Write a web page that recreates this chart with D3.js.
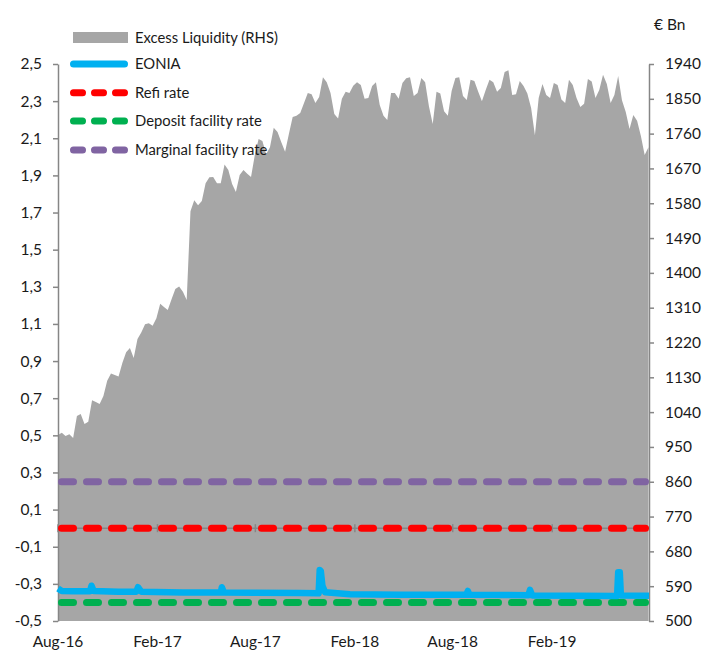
<!DOCTYPE html>
<html>
<head>
<meta charset="utf-8">
<script src="https://cdn.jsdelivr.net/npm/d3@7"></script>
<style>
  body { margin: 0; background: #fff; }
  text { font-family: Lato, "Open Sans", sans-serif; fill: #1a1a1a; }
</style>
</head>
<body>
<div id="chart"></div>
<script>
// Excess liquidity, weekly readings from 1 Aug 2016 (EUR bn, right axis)
const liqStart = "2016-08-01";
const excessLiquidity = [981, 987, 978, 983, 973, 1030, 1035, 1009, 1015, 1071,
  1066, 1061, 1082, 1121, 1140, 1136, 1132, 1167, 1195, 1206,
  1180, 1229, 1246, 1267, 1270, 1263, 1283, 1320, 1312, 1304,
  1332, 1358, 1365, 1351, 1330, 1559, 1588, 1575, 1586, 1632,
  1647, 1648, 1632, 1632, 1680, 1666, 1630, 1609, 1653, 1666,
  1656, 1648, 1705, 1746, 1741, 1707, 1725, 1775, 1764, 1738,
  1713, 1759, 1803, 1806, 1813, 1839, 1865, 1862, 1839, 1855,
  1906, 1893, 1865, 1811, 1799, 1850, 1868, 1865, 1884, 1893,
  1886, 1850, 1852, 1883, 1893, 1834, 1806, 1795, 1865, 1865,
  1850, 1891, 1903, 1906, 1857, 1865, 1904, 1893, 1831, 1785,
  1868, 1864, 1818, 1806, 1870, 1904, 1906, 1857, 1847, 1899,
  1896, 1869, 1844, 1873, 1899, 1893, 1868, 1878, 1919, 1924,
  1860, 1862, 1896, 1883, 1864, 1826, 1756, 1852, 1888, 1860,
  1852, 1891, 1886, 1848, 1839, 1899, 1886, 1852, 1829, 1837,
  1901, 1895, 1852, 1873, 1912, 1888, 1839, 1860, 1909, 1846,
  1816, 1772, 1808, 1793, 1754, 1705, 1725];

// EONIA (%, left axis)
const eoniaDates = ["2016-08-01", "2016-08-08", "2016-09-01", "2016-09-29", "2016-10-02", "2016-10-06",
  "2016-11-20", "2016-12-24", "2016-12-27", "2017-01-02", "2017-03-20", "2017-05-29", "2017-05-31",
  "2017-06-04", "2017-10-23", "2017-11-26", "2017-11-28", "2017-11-30", "2017-12-03", "2017-12-08",
  "2018-01-23", "2018-04-26", "2018-08-26", "2018-08-29", "2018-09-01", "2018-12-19", "2018-12-22",
  "2018-12-26", "2019-06-01", "2019-06-03", "2019-06-06", "2019-06-08", "2019-07-30"];
const eoniaValues = [-0.325, -0.338, -0.34, -0.34, -0.31, -0.338,
  -0.342, -0.342, -0.318, -0.342, -0.346, -0.347, -0.318,
  -0.347, -0.349, -0.351, -0.225, -0.23, -0.31, -0.345,
  -0.356, -0.358, -0.359, -0.338, -0.359, -0.361, -0.332,
  -0.362, -0.365, -0.238, -0.238, -0.362, -0.364];

// ECB policy rates (%)
const refiRate = 0.0;
const depositRate = -0.4;
const marginalRate = 0.25;

const dateRange = ["2016-08-01", "2019-07-30"];
const xTicks = ["2016-08-01", "2017-02-01", "2017-08-01", "2018-02-01", "2018-08-01", "2019-02-01"];
const leftTicks = [-0.5, -0.3, -0.1, 0.1, 0.3, 0.5, 0.7, 0.9, 1.1, 1.3, 1.5, 1.7, 1.9, 2.1, 2.3, 2.5];
const rightTicks = [500, 590, 680, 770, 860, 950, 1040, 1130, 1220, 1310, 1400, 1490, 1580, 1670, 1760, 1850, 1940];

const legendNames = ["Excess Liquidity (RHS)", "EONIA", "Refi rate", "Deposit facility rate", "Marginal facility rate"];
const colors = { liq: "#a6a6a6", eonia: "#00b0f0", refi: "#ff0000", deposit: "#00b050", marginal: "#8064a2" };

const parse = d3.timeParse("%Y-%m-%d");
const width = 703, height = 652;
const plot = { left: 58, right: 649, top: 64, bottom: 621 };
const fontSize = "15.5px";

const x = d3.scaleTime().domain(dateRange.map(parse)).range([plot.left, plot.right]);
const yL = d3.scaleLinear().domain([-0.5, 2.5]).range([plot.bottom, plot.top]);
const yR = d3.scaleLinear().domain([500, 1940]).range([plot.bottom, plot.top]);

const loc = d3.formatLocale({ decimal: ",", thousands: ".", grouping: [3], currency: ["", "€"], minus: "-" });
const fmtL = loc.format(".1f");

const svg = d3.select("#chart").append("svg")
  .attr("width", width)
  .attr("height", height);

// Excess liquidity area
const start = parse(liqStart);
const liqData = excessLiquidity.map((v, i) => ({ date: d3.timeDay.offset(start, 7 * i), value: v }));

svg.append("path")
  .datum(liqData)
  .attr("fill", colors.liq)
  .attr("d", d3.area()
    .x(d => x(d.date))
    .y0(yR(500))
    .y1(d => yR(d.value)));

// axes
const axisColor = "#868686";

const left = svg.append("g")
  .attr("transform", `translate(${plot.left},0)`)
  .call(d3.axisLeft(yL).tickValues(leftTicks).tickFormat(fmtL).tickSize(5).tickSizeOuter(0).tickPadding(11));

const right = svg.append("g")
  .attr("transform", `translate(${plot.right},0)`)
  .call(d3.axisRight(yR).tickValues(rightTicks).tickFormat(d3.format("d")).tickSize(5).tickSizeOuter(0).tickPadding(11));

[left, right].forEach(g => {
  g.select(".domain").attr("stroke", axisColor).attr("stroke-width", 1.5);
  g.selectAll(".tick line").attr("stroke", axisColor).attr("stroke-width", 1.5);
  g.selectAll(".tick text").style("font-size", fontSize).attr("fill", "#1a1a1a");
});

// x axis line sits at zero on the left scale
const xAxis = svg.append("g");
xAxis.append("line")
  .attr("x1", plot.left).attr("x2", plot.right)
  .attr("y1", yL(0)).attr("y2", yL(0))
  .attr("stroke", axisColor).attr("stroke-width", 1.5);

xAxis.selectAll(".xtick")
  .data(xTicks.map(parse))
  .enter().append("line")
  .attr("x1", d => x(d)).attr("x2", d => x(d))
  .attr("y1", yL(0) - 4).attr("y2", yL(0) + 4)
  .attr("stroke", axisColor).attr("stroke-width", 1.5);

svg.selectAll(".xlabel")
  .data(xTicks.map(parse))
  .enter().append("text")
  .attr("x", d => x(d))
  .attr("y", 642)
  .attr("dy", "0.35em")
  .attr("text-anchor", "middle")
  .style("font-size", fontSize)
  .text(d3.timeFormat("%b-%y"));

svg.append("text")
  .attr("x", 654)
  .attr("y", 25)
  .attr("dy", "0.35em")
  .style("font-size", fontSize)
  .text("€ Bn");

// policy rate lines
const rates = [
  { value: marginalRate, color: colors.marginal },
  { value: refiRate, color: colors.refi },
  { value: depositRate, color: colors.deposit }
];

svg.selectAll(".rate")
  .data(rates)
  .enter().append("line")
  .attr("class", "rate")
  .attr("x1", plot.left + 3.5).attr("x2", plot.right - 3.5)
  .attr("y1", d => yL(d.value)).attr("y2", d => yL(d.value))
  .attr("stroke", d => d.color)
  .attr("stroke-width", 7)
  .attr("stroke-linecap", "round")
  .attr("stroke-dasharray", "12,13");

// EONIA
const eoniaData = eoniaDates.map((d, i) => ({ date: parse(d), value: eoniaValues[i] }));

svg.append("path")
  .datum(eoniaData)
  .attr("fill", "none")
  .attr("stroke", colors.eonia)
  .attr("stroke-width", 6.5)
  .attr("stroke-linejoin", "round")
  .attr("d", d3.line().x(d => x(d.date)).y(d => yL(d.value)));

// legend
const legend = svg.append("g");
const rowY = [37.5, 64, 92.7, 121, 150];

legend.append("rect")
  .attr("x", 73).attr("y", rowY[0] - 5.5)
  .attr("width", 55).attr("height", 11)
  .attr("fill", colors.liq);

legend.append("line")
  .attr("x1", 73.5).attr("x2", 124.5)
  .attr("y1", rowY[1]).attr("y2", rowY[1])
  .attr("stroke", colors.eonia)
  .attr("stroke-width", 7)
  .attr("stroke-linecap", "round");

[colors.refi, colors.deposit, colors.marginal].forEach((c, i) => {
  legend.append("line")
    .attr("x1", 73.5).attr("x2", 124.5)
    .attr("y1", rowY[i + 2]).attr("y2", rowY[i + 2])
    .attr("stroke", c)
    .attr("stroke-width", 7)
    .attr("stroke-linecap", "round")
    .attr("stroke-dasharray", "9,12");
});

legend.selectAll(".legend-text")
  .data(legendNames)
  .enter().append("text")
  .attr("x", 135)
  .attr("y", (d, i) => rowY[i])
  .attr("dy", "0.35em")
  .style("font-size", "14.8px")
  .text(d => d);
</script>
</body>
</html>
